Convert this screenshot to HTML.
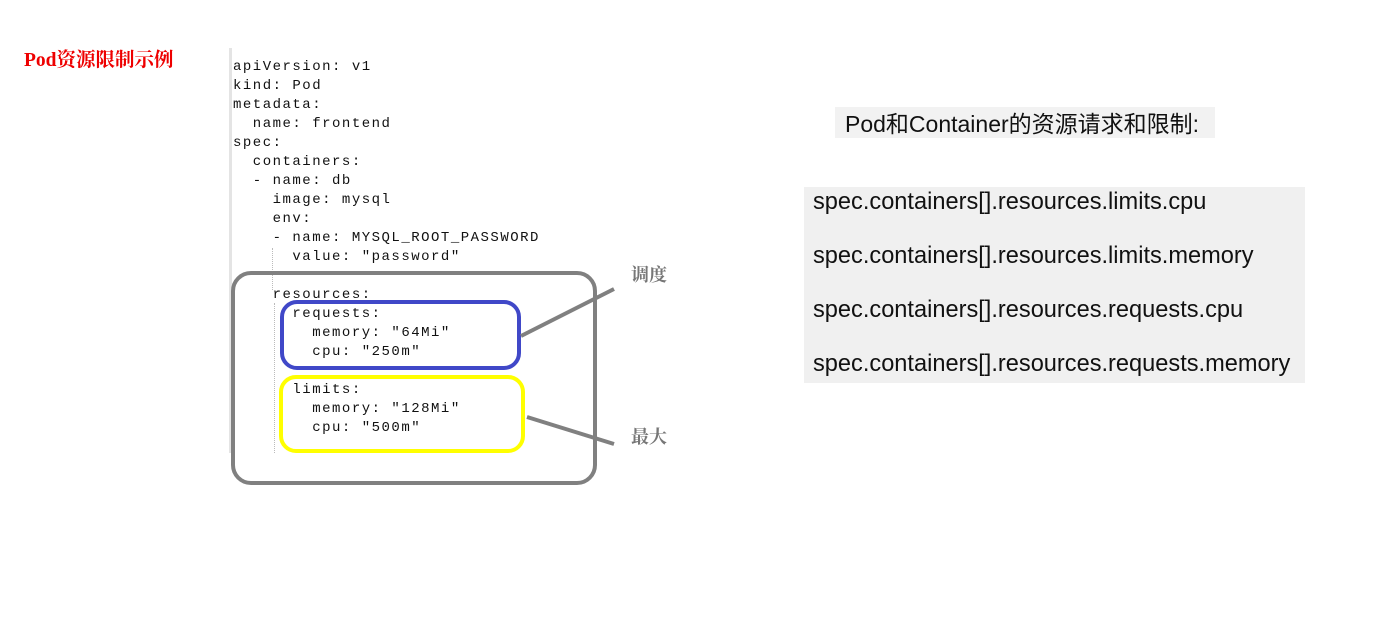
<!DOCTYPE html>
<html><head><meta charset="utf-8"><style>
body{margin:0;width:1374px;height:631px;background:#fff;position:relative;overflow:hidden;font-family:"Liberation Sans","Noto Sans CJK SC",sans-serif}
.a{position:absolute;white-space:pre}
.code{font-family:"Liberation Mono",monospace;font-size:14px;letter-spacing:1.5px;line-height:19px;color:#111}
.r{font-size:23.6px;color:#111;line-height:30px}
</style></head><body>
<div class="a" style="left:24px;top:44px;color:#e00;font-weight:bold;font-size:19.5px;font-family:'Liberation Serif','Noto Serif CJK SC',serif">Pod资源限制示例</div>
<div class="a" style="left:229px;top:48px;width:3px;height:405px;background:#e4e4e4"></div>
<div class="a" style="left:272px;top:248px;height:42px;border-left:1px dotted #bbb"></div>
<div class="a" style="left:274px;top:303px;height:150px;border-left:1px dotted #bbb"></div>
<div class="a code" style="left:233px;top:58px">apiVersion: v1
kind: Pod
metadata:
  name: frontend
spec:
  containers:
  - name: db
    image: mysql
    env:
    - name: MYSQL_ROOT_PASSWORD
      value: "password"

    resources:
      requests:
        memory: "64Mi"
        cpu: "250m"

      limits:
        memory: "128Mi"
        cpu: "500m"</div>
<svg class="a" style="left:0;top:0" width="1374" height="631">
<rect x="233" y="273" width="362" height="210" rx="18" fill="none" stroke="#808080" stroke-width="4"/>
<rect x="282" y="302" width="237" height="66" rx="15" fill="none" stroke="#4048c8" stroke-width="4"/>
<rect x="281" y="377" width="242" height="74" rx="15" fill="none" stroke="#ffff00" stroke-width="4"/>
<line x1="521" y1="336" x2="614" y2="289" stroke="#808080" stroke-width="4"/>
<line x1="527" y1="417" x2="614" y2="444" stroke="#808080" stroke-width="4"/>
</svg>
<div class="a" style="left:631px;top:261px;color:#777;font-size:18px;font-weight:bold;font-family:'Noto Serif CJK SC',serif">调度</div>
<div class="a" style="left:631px;top:423px;color:#777;font-size:18px;font-weight:bold;font-family:'Noto Serif CJK SC',serif">最大</div>
<div class="a" style="left:835px;top:107px;width:380px;height:31px;background:#f2f2f2"></div>
<div class="a r" style="left:845px;top:109px;font-size:23px">Pod和Container的资源请求和限制:</div>
<div class="a" style="left:804px;top:187px;width:501px;height:196px;background:#f0f0f0"></div>
<div class="a r" style="left:813px;top:187px">spec.containers[].resources.limits.cpu</div>
<div class="a r" style="left:813px;top:241px">spec.containers[].resources.limits.memory</div>
<div class="a r" style="left:813px;top:295px">spec.containers[].resources.requests.cpu</div>
<div class="a r" style="left:813px;top:349px">spec.containers[].resources.requests.memory</div>
</body></html>
